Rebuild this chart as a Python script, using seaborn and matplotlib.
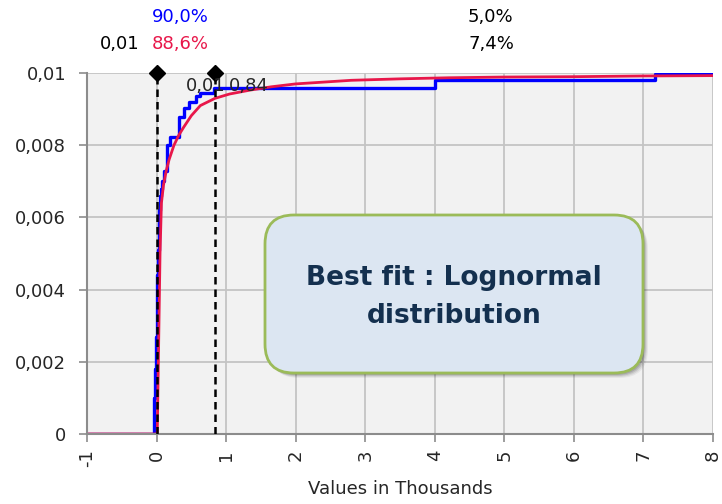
import matplotlib
matplotlib.use("Agg")
import numpy as np
import pandas as pd
import seaborn as sns
import matplotlib.pyplot as plt
from matplotlib.patches import FancyBboxPatch

# %%
# Empirical (input) distribution, step values read from the chart
input_x = [-1, -0.04, -0.03, -0.02, -0.01, 0.0, 0.01, 0.02, 0.03, 0.04, 0.05, 0.06,
           0.072, 0.105, 0.154, 0.2, 0.32, 0.39, 0.46, 0.56, 0.63, 0.825, 4.0, 7.17, 8.0]
input_y = [0, 0.0003, 0.0010, 0.0018, 0.0027, 0.0036, 0.0044, 0.0051, 0.0057, 0.0062,
           0.0066, 0.0068, 0.0070, 0.0073, 0.0080, 0.00824, 0.00879, 0.00902, 0.0092,
           0.00937, 0.00944, 0.0096, 0.0098, 0.00998, 0.00998]

# Fitted lognormal curve
fit_x = [-1, 0.0, 0.01, 0.03, 0.05, 0.07, 0.1, 0.14, 0.18, 0.25, 0.32, 0.39, 0.5, 0.63,
         0.84, 1.05, 1.35, 1.65, 2.0, 2.4, 2.8, 3.5, 4.2, 5.0, 6.0, 7.0, 8.0]
fit_y = [0, 0, 0, 0.0025, 0.0050, 0.0064, 0.0069, 0.0073, 0.0076, 0.0080, 0.00828,
         0.0085, 0.00882, 0.0091, 0.0093, 0.00942, 0.00953, 0.00962, 0.0097, 0.00975,
         0.0098, 0.00984, 0.00987, 0.00989, 0.0099, 0.00992, 0.00993]

# Delimiters
delim_x = [0.01, 0.84]
delim_labels = ["0,01", "0,84"]

x_ticks = [-1, 0, 1, 2, 3, 4, 5, 6, 7, 8]
y_ticks = [0, 0.002, 0.004, 0.006, 0.008, 0.01]
y_ticklabels = ["0", "0,002", "0,004", "0,006", "0,008", "0,01"]

df_input = pd.DataFrame({"x": input_x, "y": input_y})
df_fit = pd.DataFrame({"x": fit_x, "y": fit_y})

# %%
sns.set_style("whitegrid")
plt.rcParams["font.family"] = ["DejaVu Sans"]

fig = plt.figure(figsize=(7.22, 5.04), dpi=100)
ax = fig.add_axes([0.1205, 0.1389, 0.867, 0.7161])
ax.set_facecolor("#f2f2f2")

sns.lineplot(data=df_input, x="x", y="y", ax=ax, color="#0000ff", linewidth=2.4,
             drawstyle="steps-post", estimator=None, sort=False)
sns.lineplot(data=df_fit, x="x", y="y", ax=ax, color="#e8174a", linewidth=2.0,
             estimator=None, sort=False)

for xv in delim_x:
    ax.plot([xv, xv], [0, 0.01], color="black", linestyle=(0, (3, 2)), linewidth=1.8,
            zorder=4)
    ax.plot([xv], [0.01], marker="D", color="black", markersize=8, zorder=5,
            clip_on=False)

ax.text(0.42, 0.00965, delim_labels[0], fontsize=13, va="center", ha="left", zorder=6)
ax.text(1.04, 0.00965, delim_labels[1], fontsize=13, va="center", ha="left", zorder=6)

ax.set_xlim(-1, 8)
ax.set_ylim(0, 0.01)
ax.set_xticks(x_ticks)
ax.set_xticklabels([str(v) for v in x_ticks], rotation=90, fontsize=13)
ax.set_yticks(y_ticks)
ax.set_yticklabels(y_ticklabels, fontsize=13)
ax.grid(True, color="#c4c4c4", linewidth=1.3)
ax.tick_params(axis="both", length=6, width=1.2, color="#8c8c8c", direction="out",
               left=True, bottom=True)
ax.tick_params(axis="y", pad=9)
ax.tick_params(axis="x", pad=5)
for s in ["top", "right"]:
    ax.spines[s].set_visible(False)
for s in ["left", "bottom"]:
    ax.spines[s].set_color("#8c8c8c")
    ax.spines[s].set_linewidth(1.5)
ax.set_xlabel("Values in Thousands", fontsize=13, labelpad=9)
ax.set_ylabel("")

# Top percentages
fig.text(152 / 722, 1 - 17 / 504, "90,0%", color="#0000ff", fontsize=13, va="center")
fig.text(152 / 722, 1 - 44 / 504, "88,6%", color="#e8174a", fontsize=13, va="center")
fig.text(100 / 722, 1 - 44 / 504, "0,01", color="black", fontsize=13, va="center")
fig.text(468 / 722, 1 - 17 / 504, "5,0%", color="black", fontsize=13, va="center")
fig.text(468 / 722, 1 - 44 / 504, "7,4%", color="black", fontsize=13, va="center")

# Text box with shadow
bx, by, bw, bh = 265 / 722, 1 - 373 / 504, 378 / 722, 158 / 504
asp = 722 / 504
for i, a in enumerate([0.05, 0.07, 0.1, 0.12]):
    off = (5 - i) / 722
    sh = FancyBboxPatch((bx + off, by - off * asp), bw, bh,
                        boxstyle="round,pad=0,rounding_size=0.04", mutation_aspect=asp,
                        transform=fig.transFigure, facecolor="black", edgecolor="none",
                        alpha=a, zorder=8)
    fig.patches.append(sh)
box = FancyBboxPatch((bx, by), bw, bh, boxstyle="round,pad=0,rounding_size=0.04",
                     mutation_aspect=asp, transform=fig.transFigure,
                     facecolor="#dce6f2", edgecolor="#9bbb59", linewidth=2, zorder=9)
fig.patches.append(box)
fig.text(bx + bw / 2, 1 - 297 / 504, "Best fit : Lognormal\ndistribution",
         ha="center", va="center", fontsize=19, fontweight="bold", color="#14304f",
         linespacing=1.6, zorder=10)

plt.savefig("out.png", dpi=100)
